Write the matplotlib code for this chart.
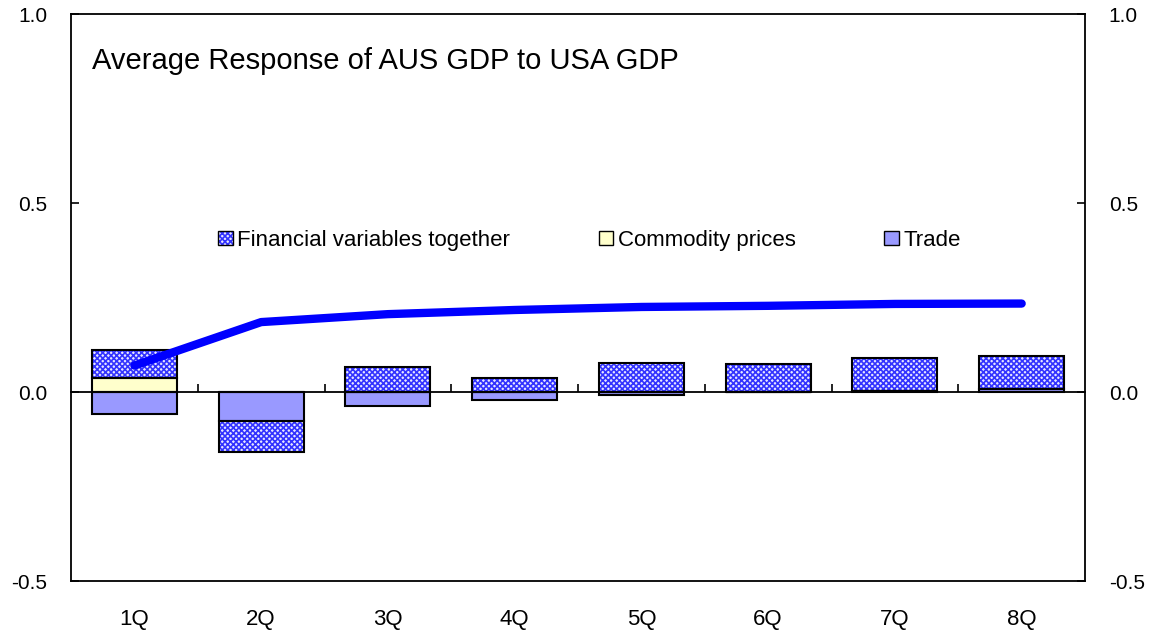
import matplotlib
matplotlib.use('Agg')
import matplotlib.pyplot as plt
from matplotlib.patches import Patch
import numpy as np

plt.rcParams['font.family'] = ['Liberation Sans', 'DejaVu Sans']
plt.rcParams['hatch.linewidth'] = 1.2

# data
quarters = ['1Q', '2Q', '3Q', '4Q', '5Q', '6Q', '7Q', '8Q']
trade = [-0.058, -0.077, -0.037, -0.020, -0.007, 0.000, 0.003, 0.009]
commodity = [0.037, 0.0, 0.0, 0.0, 0.0, 0.0, 0.0, 0.0]
financial = [0.075, -0.082, 0.066, 0.037, 0.076, 0.075, 0.087, 0.085]
total_response = [0.070, 0.185, 0.206, 0.217, 0.225, 0.228, 0.233, 0.234]

title = 'Average Response of AUS GDP to USA GDP'

trade_col = '#9999ff'
comm_col = '#ffffcc'
fin_face = '#e6e6ff'
fin_hatch = '#3333ff'
fin_pattern = 'xxxxxx'
bar_w = 0.67

fig = plt.figure(figsize=(11.57, 6.37), dpi=100)
ax = fig.add_axes([0.0614, 0.0879, 0.8764, 0.8901])

x = np.arange(len(quarters))
pos_base = np.zeros(len(x))
neg_base = np.zeros(len(x))

def stack(vals, **kw):
    vals = np.asarray(vals)
    bottoms = np.where(vals >= 0, pos_base, neg_base)
    ax.bar(x, vals, bar_w, bottom=bottoms, **kw)
    ax.bar(x, vals, bar_w, bottom=bottoms, fill=False,
           edgecolor='black', linewidth=1.5, zorder=3)
    pos_base[:] += np.where(vals >= 0, vals, 0)
    neg_base[:] += np.where(vals < 0, vals, 0)

stack(trade, color=trade_col, linewidth=0, zorder=2)
stack(commodity, color=comm_col, linewidth=0, zorder=2)
stack(financial, facecolor=fin_face, edgecolor=fin_hatch, hatch=fin_pattern,
      linewidth=0, zorder=2)

ax.plot(x, total_response, color='#0000ff', linewidth=6,
        solid_capstyle='round', zorder=4)

ax.set_xlim(-0.5, len(x) - 0.5)
ax.set_ylim(-0.5, 1.0)
ax.set_yticks([-0.5, 0.0, 0.5, 1.0])
ax.yaxis.set_major_formatter(matplotlib.ticker.FormatStrFormatter('%.1f'))
ax.tick_params(axis='y', direction='in', length=6, width=1.2,
               right=True, labelright=True, labelsize=15, pad=17)
ax.tick_params(axis='y', which='major', labelleft=True)
for lbl in ax.get_yticklabels():
    pass
ax.set_xticks(x)
ax.set_xticklabels(quarters)
ax.tick_params(axis='x', length=0, labelsize=16, pad=20)
for s in ax.spines.values():
    s.set_linewidth(1.3)

# zero line with category-boundary ticks
zero = ax.secondary_xaxis(1 / 3)
zero.set_xticks(np.arange(0.5, len(x) - 0.5, 1))
zero.tick_params(direction='in', length=6, width=1.2, labelbottom=False,
                 labeltop=False)
zero.spines['bottom'].set_linewidth(1.3)

ax.text(0.021, 0.918, title, transform=ax.transAxes, fontsize=21,
        va='center', ha='left')

fin_handle = (Patch(facecolor=fin_face, edgecolor=fin_hatch, hatch=fin_pattern, linewidth=0),
              Patch(fill=False, edgecolor='black', linewidth=1))
handles = [fin_handle,
           Patch(facecolor=comm_col, edgecolor='black', linewidth=1),
           Patch(facecolor=trade_col, edgecolor='black', linewidth=1)]
labels = ['Financial variables together', 'Commodity prices', 'Trade']
ax.legend(handles, labels, loc='center left', bbox_to_anchor=(0.145, 0.601),
          ncol=3, frameon=False, fontsize=16, handlelength=0.65,
          handleheight=0.65, handletextpad=0.2, columnspacing=4.0,
          borderpad=0, borderaxespad=0)

fig.savefig('out.png', dpi=100)
